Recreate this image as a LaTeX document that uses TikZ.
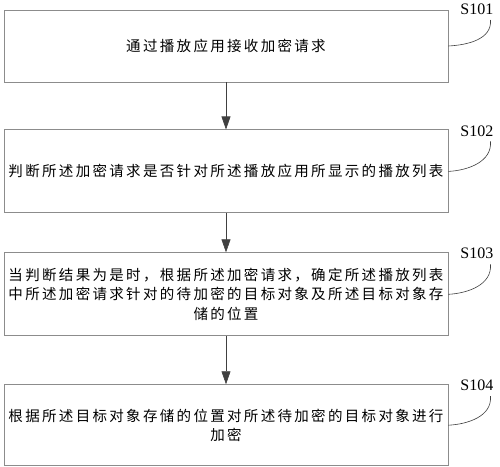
\documentclass[tikz,border=0pt]{standalone}
\usepackage{fontspec}
\setmainfont{Liberation Serif}
\newfontfamily\cjkwide{Noto Sans CJK SC}[LetterSpace=16]
\usetikzlibrary{positioning,arrows.meta}

\tikzset{
  stepbox/.style={draw=black!45, line width=0.9pt, minimum width=444pt, inner sep=0pt,
    align=center, font=\fontsize{14.5}{19.5}\selectfont\cjkwide},
  flow/.style={draw=black!75, line width=0.6pt, -{Triangle[width=9pt,length=13pt]}},
  tag/.style={draw=black!75, line width=0.6pt},
  steplabel/.style={font=\fontsize{16}{18}\selectfont, inner sep=0pt, anchor=south east}
}

\begin{document}
\begin{tikzpicture}[x=1pt,y=1pt]
	\useasboundingbox (0,0) rectangle (500,-466);
	
	\node[stepbox, minimum height=72pt] (s101) at (226,-46) {通过播放应用接收加密请求};
	\node[stepbox, minimum height=83pt, below=47pt of s101] (s102) {判断所述加密请求是否针对所述播放应用所显示的播放列表};
	\node[stepbox, minimum height=83pt, below=39pt of s102] (s103) {当判断结果为是时，根据所述加密请求，确定所述播放列表\\中所述加密请求针对的待加密的目标对象及所述目标对象存\\储的位置};
	\node[stepbox, minimum height=81pt, below=48pt of s103] (s104) {根据所述目标对象存储的位置对所述待加密的目标对象进行\\加密};
	
	\draw[flow] (s101) -- (s102);
	\draw[flow] (s102) -- (s103);
	\draw[flow] (s103) -- (s104);
	
	% step tags
	\coordinate (t101) at ([shift={(42,26)}]s101.east);
	\coordinate (t102) at ([shift={(42,30)}]s102.east);
	\coordinate (t103) at ([shift={(42,30)}]s103.east);
	\coordinate (t104) at ([shift={(42,29)}]s104.east);
	\draw[tag] (s101.east) to[out=3, in=-85] (t101);
	\draw[tag] (s102.east) to[out=3, in=-85] (t102);
	\draw[tag] (s103.east) to[out=3, in=-85] (t103);
	\draw[tag] (s104.east) to[out=3, in=-85] (t104);
	\node[steplabel] (l101) at ([shift={(3,5)}]t101) {S101};
	\node[steplabel] (l102) at ([shift={(3,5)}]t102) {S102};
	\node[steplabel] (l103) at ([shift={(3,5)}]t103) {S103};
	\node[steplabel] (l104) at ([shift={(3,5)}]t104) {S104};
\end{tikzpicture}
\end{document}
